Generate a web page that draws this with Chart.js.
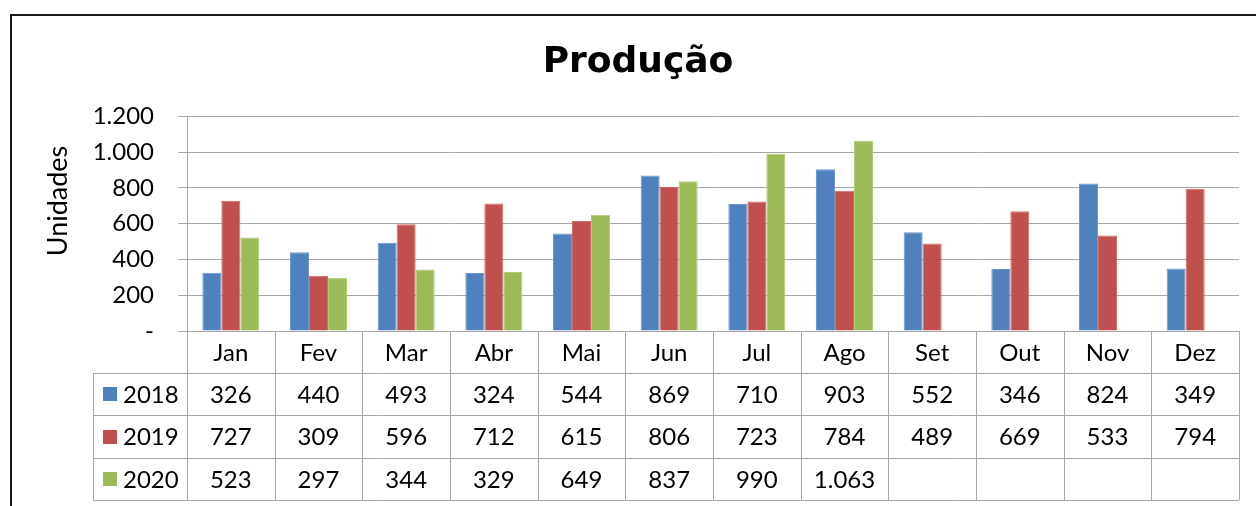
<!DOCTYPE html>
<html>
<head>
<meta charset="utf-8">
<title>Produção</title>
<script src="https://cdn.jsdelivr.net/npm/chart.js@4.4.1/dist/chart.umd.min.js"></script>
<style>
    body { margin: 0; background: #ffffff; }
    #wrap { width: 1256px; height: 506px; }
</style>
</head>
<body>
<div id="wrap"><canvas id="chart" width="1256" height="506"></canvas></div>
<script>
// Data
const months = ['Jan', 'Fev', 'Mar', 'Abr', 'Mai', 'Jun', 'Jul', 'Ago', 'Set', 'Out', 'Nov', 'Dez'];
const years = ['2018', '2019', '2020'];
const values2018 = [326, 440, 493, 324, 544, 869, 710, 903, 552, 346, 824, 349];
const values2019 = [727, 309, 596, 712, 615, 806, 723, 784, 489, 669, 533, 794];
const values2020 = [523, 297, 344, 329, 649, 837, 990, 1063, null, null, null, null];

const SERIES_COLORS = ['#4F81BD', '#C0504D', '#9BBB59'];
const SERIES_BORDERS = ['#6D97CC', '#D06A67', '#B0CC74'];
const GRID_COLOR = '#A6A6A6';
const FONT = 'Lato';

// Excel style number: 1.063, zero shown as "-"
function formatValue(v) {
    if (v === 0) return '-';
    return v.toString().replace(/\B(?=(\d{3})+(?!\d))/g, '.');
}

// White background + dark frame around the chart
const framePlugin = {
    id: 'frame',
    beforeDraw(chart) {
        const ctx = chart.ctx;
        ctx.save();
        ctx.fillStyle = '#ffffff';
        ctx.fillRect(0, 0, chart.width, chart.height);
        ctx.strokeStyle = '#1a1a1a';
        ctx.lineWidth = 2;
        ctx.strokeRect(11, 15, 1400, 700);
        ctx.restore();
    }
};

// Rotated axis title, centred a little higher than the plot like in Excel
const axisTitlePlugin = {
    id: 'axisTitle',
    afterDraw(chart) {
        const ctx = chart.ctx;
        ctx.save();
        ctx.translate(58, 201);
        ctx.rotate(-Math.PI / 2);
        ctx.font = '27px ' + FONT;
        ctx.fillStyle = '#000000';
        ctx.textAlign = 'center';
        ctx.textBaseline = 'middle';
        ctx.fillText('Unidades', 0, 0);
        ctx.restore();
    }
};

// Data table below the plot (header row uses the x axis labels)
const dataTablePlugin = {
    id: 'dataTable',
    afterDraw(chart) {
        const ctx = chart.ctx;
        const area = chart.chartArea;
        const x = chart.scales.x;
        const colW = x.width / months.length;
        const headH = 42;
        const rowH = 42.4;
        const legendLeft = 93;
        const rowsTop = area.bottom + headH;
        const bottom = rowsTop + rowH * chart.data.datasets.length;

        ctx.save();
        ctx.strokeStyle = GRID_COLOR;
        ctx.lineWidth = 1;
        ctx.beginPath();
        for (let r = 0; r <= chart.data.datasets.length; r++) {
            const y = Math.round(rowsTop + r * rowH) + 0.5;
            ctx.moveTo(legendLeft, y);
            ctx.lineTo(area.right, y);
        }
        for (let i = 0; i <= months.length; i++) {
            const xp = Math.round(area.left + i * colW) + 0.5;
            ctx.moveTo(xp, area.bottom);
            ctx.lineTo(xp, bottom);
        }
        ctx.moveTo(legendLeft + 0.5, rowsTop);
        ctx.lineTo(legendLeft + 0.5, bottom);
        ctx.stroke();

        ctx.font = '24px ' + FONT;
        ctx.textBaseline = 'middle';
        chart.data.datasets.forEach((ds, r) => {
            const cy = rowsTop + r * rowH + rowH / 2;
            ctx.fillStyle = ds.backgroundColor;
            ctx.fillRect(103, Math.round(cy - 7), 14, 14);
            ctx.fillStyle = '#000000';
            ctx.textAlign = 'left';
            ctx.fillText(ds.label, 123, cy + 1);
            ctx.textAlign = 'center';
            ds.data.forEach((v, i) => {
                if (v === null) return;
                ctx.fillText(formatValue(v), x.getPixelForValue(i), cy + 1);
            });
        });
        ctx.restore();
    }
};

function init() {
    const allValues = [values2018, values2019, values2020];
    const ctx = document.getElementById('chart').getContext('2d');

    new Chart(ctx, {
        type: 'bar',
        data: {
            labels: months,
            datasets: years.map((year, i) => ({
                label: year,
                data: allValues[i],
                backgroundColor: SERIES_COLORS[i],
                borderColor: SERIES_BORDERS[i],
                borderWidth: 1,
                borderSkipped: 'bottom',
                barPercentage: 1,
                categoryPercentage: 0.65
            }))
        },
        options: {
            responsive: false,
            animation: false,
            layout: {
                padding: { left: 37, right: 17, top: 0, bottom: 133 }
            },
            plugins: {
                legend: { display: false },
                tooltip: { enabled: false },
                title: {
                    display: true,
                    text: 'Produção',
                    color: '#000000',
                    font: { family: "'DejaVu Sans'", size: 36, weight: 'bold', lineHeight: 1.2 },
                    padding: { top: 41, bottom: 32 }
                }
            },
            scales: {
                x: {
                    grid: { display: false },
                    border: { display: false },
                    ticks: {
                        color: '#000000',
                        font: { family: FONT, size: 24 },
                        padding: 0,
                        maxRotation: 0,
                        autoSkip: false
                    },
                    afterFit(scale) { scale.height = 42; }
                },
                y: {
                    min: 0,
                    max: 1200,
                    ticks: {
                        stepSize: 200,
                        color: '#000000',
                        font: { family: FONT, size: 24 },
                        padding: 24,
                        callback: v => formatValue(v)
                    },
                    grid: { color: GRID_COLOR, tickLength: 9, lineWidth: 1 },
                    border: { color: GRID_COLOR },
                    afterFit(scale) { scale.width = 150; }
                }
            }
        },
        plugins: [framePlugin, axisTitlePlugin, dataTablePlugin]
    });
}

document.addEventListener('DOMContentLoaded', init);
</script>
</body>
</html>
